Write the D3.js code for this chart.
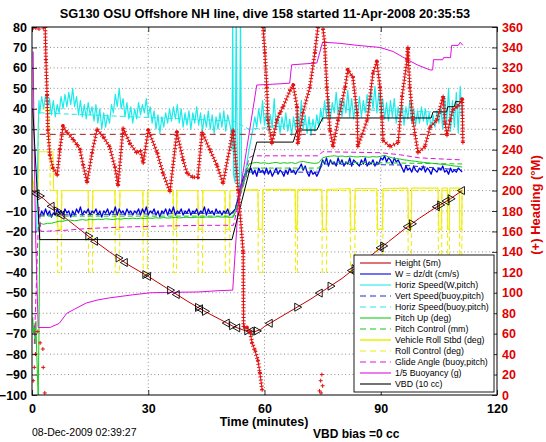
<!DOCTYPE html>
<html><head><meta charset="utf-8">
<script src="https://cdnjs.cloudflare.com/ajax/libs/d3/7.8.5/d3.min.js"></script>
<style>body{margin:0;background:#fff}svg{display:block}text{font-family:"Liberation Sans",Arial,Helvetica,sans-serif}</style>
</head><body><svg id="c" width="546" height="442"></svg>
<script>
// ---------------- DATA ----------------
const titleText = "SG130 OSU Offshore NH line, dive 158 started 11-Apr-2008 20:35:53";
const xTicks = [0, 30, 60, 90, 120];
const yLeftTicks = d3.range(-100, 81, 10);
const yRightTicks = d3.range(0, 361, 20);
const legendLabels = ["Height (5m)", "W = dz/dt (cm/s)", "Horiz Speed(W,pitch)", "Vert Speed(buoy,pitch)",
  "Horiz Speed(buoy,pitch)", "Pitch Up (deg)", "Pitch Control (mm)", "Vehicle Roll Stbd (deg)",
  "Roll Control (deg)", "Glide Angle (buoy,pitch)", "1/5 Buoyancy (g)", "VBD (10 cc)"];

// Height (5m)  [time min, value]
const heightData = [[0,0],[3,-4],[7,-11],[11,-17],[15,-23],[20,-30],[25,-36.5],[30,-42],[35,-48],[40,-54],
  [44,-58.5],[48,-62.5],[52,-66.5],[55,-68.5],[57.5,-69],[59,-68],[60,-66.5],[64,-62],[68,-57.5],[72,-53],
  [76,-48],[80,-43],[84,-37],[88,-31],[92,-25],[96,-19],[100,-13.5],[104,-8.5],[108,-4],[111,0]];
const heightMarkT = [1.2,2.0,5.1,6.4,7.7,14.5,16.3,22.3,24,29.2,30,35.6,37.4,42.8,43.4,44.6,50.3,51.6,53,55.5,
  56.5,58,61.4,68.4,74.3,77,82.6,83.2,90,90.6,97,98,104.5,105.3,107,108,111];

// W = dz/dt, descent samples every 0.5 min from t=2
const wDesc = [-13,-10,-12,-9,-12,-10,-13,-11,-12,-9, -11,-10,-12,-9,-11,-10,-13,-10,-12,-9,
  -11,-8,-12,-10,-11,-9,-12,-10,-11,-9, -12,-10,-13,-10,-11,-9,-12,-10,-11,-8,
  -12,-9,-11,-10,-12,-9,-11,-10,-12,-10, -11,-9,-12,-9,-11,-8,-12,-10,-11,-9,
  -12,-10,-13,-10,-11,-9,-12,-9,-11,-8, -12,-10,-11,-9,-12,-10,-11,-9,-12,-10,
  -11,-9,-12,-10,-11,-8,-12,-9,-11,-10, -12,-9,-11,-10,-12,-10,-11,-9,-12,-11];
const wTrans = [[52,-10],[52.5,-9],[53,-5],[53.5,-1],[54,3],[54.5,6],[55,8],[55.5,10]];
// ascent samples every 0.5 min from t=56
const wAsc = [9,11,8,10,7,11,9,10,8,11,8,10,7,9,11,8,10,9,7,10,8,11,9,10,8,10,
  11,13,10,12, 9,7,10,8,9,7,9, 12,15,
  13,16,12,15,13,14,12,16,13,15,12,14,13,16,12,15,14,13,12,15,13,16,12,14,13,15,12,14,13,16,
  15,17,14,16,15,13,16,14,15,13,
  11,9,12,10,11,9,12,10,9,11,10,12,9,11,10,8,11,10,9,11,10,12,9,10,8,11,9,10,9,11,10,9];

// Horiz Speed (W,pitch)
const cyanStart = [[1.2,-20],[1.6,30],[1.8,44]];
const cyanDesc = [38,46,40,47,41,45,37,44,36,42, 38,46,40,47,41,48,42,50,41,46,
  37,44,36,42,35,43,37,41,34,42, 33,40,30,38,31,37,33,42,38,47,
  41,50,40,45,36,43,35,41,33,40, 35,43,37,42,38,45,36,41,33,39,
  30,37,28,36,31,38,33,40,34,41, 35,42,33,40,31,38,32,39,30,38,
  33,41,32,38,29,37,31,39,30,37, 28,36,30,38,31,39,29,37,33];
const cyanSpike = [[51.3,30],[51.6,20],[51.8,86],[52.0,8],[52.4,4],[52.7,86],[53.0,3],[53.5,1],[53.8,86],[54.1,2],[54.5,5]];
const cyanAsc = [9,14,20,25,30,36,31,40,33,44, 32,38,29,37,31,45,30,37,28,36,
  30,38,29,35,27,36,30,39,31,44, 30,37,28,36,27,35,29,37,31,40,
  34,44,36,46,35,43,38,48,37,45, 36,44,38,49,36,45,35,43,37,46,
  36,44,38,47,39,49,40,51,38,48, 37,45,35,43,34,44,36,45,33,41,
  34,42,32,41,35,44,33,40,32,39, 33,41,34,40,32,38,30,37,31,39,
  33,41,30,46,33,50,29,44,31,48, 28,51,36];

const vertSpeedBuoy = [[2,-12],[52,-11],[55.5,9],[74,9],[75,13],[95,12.5],[111,10]];
const horizSpeedBuoy = [[2,38],[52,34],[56,30],[74,33],[75,40],[111,38]];

// Pitch Up (deg)
const pitchStart = [[0.2,-62],[0.4,-70],[0.6,-66],[0.8,-75],[1.0,-64],[1.2,-78],[1.4,-90],[1.6,-100],[1.8,-70],[2.0,-16]];
const pitchDesc = [-16.5,-16,-16,-15.5,-15,-15,-14.5,-14.5,-14.8,-14.5,-14.2,-14.5,-14,-14.3,-14,-14.2,-13.8,-14,-14.2,-13.8,
  -14,-13.6,-13.8,-13.5,-13.8,-13.5,-13.7,-13.4,-13.6,-13.3,-13.5,-13.2,-13.5,-13.3,-13.1,-13.4,-13.2,-13,-13.3,-13.1,
  -13,-13.2,-12.9,-13.1,-13,-12.8,-13,-12.9,-13.1,-13];
const pitchTrans = [[53,-8],[54,0],[55,8],[56,13]];
const pitchAsc = [13.5,13.8,13.4,13.6,13.2,13.5,13.8,13.3,13.6,13.4,13.7,13.2,14,14.2,13.8,13.5,13.3,13.6,
  16,16.6,16.8,17,16.7,16.9,16.5,16.8,16.6,16.4,16.7,16.5,16.3,16.6,16.4,16.8,17.2,
  16.5,16,15.7,15.4,15,14.8,14.5,14.3,14,13.8,13.6,13.4,13.2,13,12.8,12.6,12.3,12,11.8,11.5];
const pitchControl = [[2,-12.5],[52,-12.5],[55,5],[56,11],[74,11],[75,14],[111,13]];

// Roll (deg)
const rollData = [[0,8],[0.5,0],[1.5,0],[1.8,19],[5.4,19],[5.6,0],
  [6.5,0],[6.7,-19],[7.5,-19],[7.7,0],[14.5,0],[14.7,-19],[15.5,-19],[15.7,0],
  [21.4,0],[21.6,-19],[22.5,-19],[22.7,0],[28.6,0],[28.8,-19],[29.7,-19],[29.9,0],
  [36.4,0],[36.6,-19],[37.2,-19],[37.4,0],[42.8,0],[43,-19],[43.9,-19],[44.1,0],
  [49.8,0],[50,-19],[50.9,-19],[51.1,0],[58.3,0.5],[58.5,-19],[59.4,-19],[59.6,0.5],
  [67.9,0.5],[68.1,-19],[68.4,-19],[68.6,0.5],[74.8,0.5],[75,-19],[75.9,-19],[76.1,0.5],
  [82.1,1],[82.3,-19],[83.2,-19],[83.4,1],[89,1],[89.2,-19],[90.4,-19],[90.6,1],
  [97,1.2],[97.2,-19],[97.8,-19],[98,1.2],[104.8,1.2],[105,-19],[105.6,-19],[105.8,1.2],
  [107.2,1.2],[107.3,-19],[107.7,-19],[107.8,1.2],[110.3,1.2],[110.4,-19],[110.9,-19],[111,1.2]];
const rollControl = [[0,5],[1.5,0],[1.8,40],[4.5,40],[4.7,0],
  [6.5,0],[6.6,-40],[7.6,-40],[7.7,0],[14.5,0],[14.6,-40],[15.6,-40],[15.7,0],
  [21.4,0],[21.5,-40],[22.6,-40],[22.7,0],[28.6,0],[28.7,-40],[29.8,-40],[29.9,0],
  [36.4,0],[36.5,-40],[37.3,-40],[37.4,0],[42.8,0],[42.9,-40],[44,-40],[44.1,0],
  [49.8,0],[49.9,-40],[51,-40],[51.1,0],[58.3,0],[58.4,-40],[59.5,-40],[59.6,0],
  [67.9,0],[68,-40],[68.5,-40],[68.6,0],[74.8,0],[74.9,-40],[76,-40],[76.1,0],
  [82.1,0],[82.2,-40],[83.3,-40],[83.4,0],[89,0],[89.1,-40],[90.5,-40],[90.6,0],
  [97,0],[97.1,-40],[97.9,-40],[98,0],[104.8,0],[104.9,-40],[105.7,-40],[105.8,0],
  [107.2,0],[107.3,-40],[107.7,-40],[107.8,0],[110.3,0],[110.4,-40],[110.9,-40],[111,0]];

// Glide angle (buoy,pitch)
const glideAngle = [[0.6,-75],[1.8,-8],[2.3,-20],[8,-19.5],[15,-18.5],[25,-17.8],[35,-17.3],[45,-17],[52,-17],
  [54,0],[56,16],[57,17],[74,17],[75,19],[90,18.5],[95,17.5],[100,16],[105,15.5],[111,15]];

// 1/5 Buoyancy (g)
const buoyancy = [[0.3,68],[0.5,30],[0.9,-20],[1.6,-67],[4.6,-67],[7,-65],[9,-60],[11,-58],[14,-55],[17,-53.5],
  [20,-52.5],[26,-51],[30.5,-50],[36,-49.8],[43,-49.6],[48,-49],[51.8,-48.7],[53.3,-5],[58,51.6],[62,52],
  [66.5,52.5],[67,61.5],[73.5,62.4],[75,72.6],[79.5,72],[84,71],[89.8,70],[93.2,68],[95.7,65.3],[99.4,61.5],
  [102.7,59],[103.4,59],[103.6,64],[106,64],[106.2,65],[108,65],[108.3,71],[110,71],[110.5,72.5],[111.2,71]];

// VBD (10 cc)
const vbd = [[0.2,40],[2,-24],[51.6,-24],[58,23.7],[67.4,23.7],[68.4,29.6],[73.5,29.6],[75,35.5],[103,35.5],
  [103.5,38.5],[107,38.5],[107.3,41],[109,41],[109.3,43.5],[111,43.5]];

// Heading (deg M), right axis
const headingTop = [[0.3,359],[1.0,359],[1.8,358],[2.9,359]];
const headingStart = [[0.3,14],[0.6,27],[0.9,40],[1.5,62],[2.1,51],[2.8,45],[2.9,27],[3.3,2]];
const headingB = [[3.4,360],[3.6,328],[3.9,293],[4.1,259],[4.6,235],[5.4,222],[6.5,215],[7.2,240],[8.0,263],
  [9.0,257],[10.6,250],[11.6,245],[12.4,240],[13.2,225],[14.2,208],[15.5,237],[16.8,260],[18.5,252],[20.0,243],
  [21.4,223],[22.2,205],[23.5,261],[25.3,246],[27.0,237],[28.0,239],[28.7,227],[30.0,259],[32.3,237],[33.8,217],
  [35.6,199],[37.4,257],[39.0,230],[40.0,217],[41.5,213],[42.8,213],[43.9,257],[45.9,240],[47.7,225],[49.3,207],
  [51.9,259],[53.2,200],[54.5,140],[54.6,67],[55.4,66],[56.3,61],[56.8,51],[57.5,44],[58.3,34],[58.8,22],[59.4,5]];
const headingC = [[59.6,360],[60.1,335],[60.6,301],[60.9,269],[61.9,246],[63.2,269],[64.0,276],[64.8,282],
  [66.6,298],[67.4,303],[68.4,282],[68.6,246],[69.9,276],[71.7,301],[73.0,335],[73.8,360]];
const headingD = [[74.2,4],[74.5,14],[74.6,2],[74.8,20],[75.0,9]];
const headingE = [[75.1,358],[75.5,345],[76.1,301],[76.9,259],[77.7,243],[79.0,269],[80.8,301],[81.5,318],
  [82.8,311],[83.9,276],[84.1,243],[86.5,269],[88.0,315],[89.0,326],[89.8,301],[90.3,272],[90.6,249],[92.4,243],
  [94.5,247],[95.5,292],[96.8,328],[97.0,340],[97.5,301],[98.3,269],[99.6,237],[101.4,243],[102.7,262],
  [104.5,269],[106.1,292],[106.6,266],[107.1,254],[107.9,269],[108.6,279],[109.7,282],[111.0,289],[111.2,247]];
const headingTarget = [[2,255],[111.2,255]];

// ---------------- RENDER ----------------
const svg = d3.select("#c");
const X = d3.scaleLinear().domain([0, 120]).range([32, 497]);
const YL = d3.scaleLinear().domain([-100, 80]).range([395, 27]);
const YR = d3.scaleLinear().domain([0, 360]).range([395, 27]);
const FONT = '"Liberation Sans",Arial,Helvetica,sans-serif';
const minus = d => d < 0 ? "\u2212" + Math.abs(d) : String(d);
const seq = (t0, dt, vals) => vals.map((v, i) => [t0 + i * dt, v]);

svg.append("rect").attr("width", 546).attr("height", 442).attr("fill", "#fff");
svg.append("defs").append("clipPath").attr("id", "clip").append("rect")
  .attr("x", X(0)).attr("y", YL(80)).attr("width", X(120) - X(0)).attr("height", YL(-100) - YL(80));

// grid
const grid = svg.append("g").attr("stroke", "#444").attr("stroke-width", 0.6).attr("stroke-dasharray", "1,2.6");
grid.selectAll(".gh").data(yLeftTicks.filter(d => d > -100 && d < 80)).join("line")
  .attr("x1", X(0)).attr("x2", X(120)).attr("y1", d => YL(d)).attr("y2", d => YL(d));
grid.selectAll(".gv").data(xTicks.filter(d => d > 0 && d < 120)).join("line")
  .attr("x1", d => X(d)).attr("x2", d => X(d)).attr("y1", YL(80)).attr("y2", YL(-100));

const plot = svg.append("g").attr("clip-path", "url(#clip)");
function addLine(data, color, opt = {}) {
  const ys = opt.right ? YR : YL;
  return plot.append("path").datum(data)
    .attr("d", d3.line().x(d => X(d[0])).y(d => ys(d[1])))
    .attr("fill", "none").attr("stroke", color).attr("stroke-width", opt.w || 1)
    .attr("stroke-dasharray", opt.dash || null).attr("stroke-linejoin", "round");
}

const C = { height: "#c40000", w: "#0000e6", cyan: "#1eeaea", vert: "#2233bb", green: "#16c816",
  yellow: "#eeee10", magenta: "#dd10dd", black: "#000", heading: "#e41010", target: "#a01818" };

const wSeries = [].concat(seq(2, 0.5, wDesc), wTrans, seq(56, 0.5, wAsc));
const cyanSeries = [].concat(cyanStart, seq(2, 0.5, cyanDesc), cyanSpike, seq(55, 0.5, cyanAsc));
const pitchSeries = [].concat(pitchStart, seq(3, 1, pitchDesc), pitchTrans, seq(57, 1, pitchAsc));

// draw in legend order
addLine(rollData, C.yellow, { w: 1.1 });
addLine(rollControl, C.yellow, { w: 1.1, dash: "5,3" });
addLine(heightData, C.height, { w: 1 });
addLine(cyanSeries, C.cyan, { w: 1.2 });
addLine(horizSpeedBuoy, C.cyan, { w: 1, dash: "5,3" });
addLine(wSeries, C.w, { w: 1.3 });
addLine(vertSpeedBuoy, C.vert, { w: 1, dash: "5,3" });
addLine(pitchSeries, C.green, { w: 1 });
addLine(pitchControl, C.green, { w: 1, dash: "5,3" });
addLine(glideAngle, C.magenta, { w: 1, dash: "5,3" });
addLine(buoyancy, C.magenta, { w: 1 });
addLine(vbd, C.black, { w: 1 });

// height triangles
function interp(series, t) {
  for (let i = 0; i < series.length - 1; i++) {
    const a = series[i], b = series[i + 1];
    if (t >= a[0] && t <= b[0]) return a[1] + (b[1] - a[1]) * (t - a[0]) / (b[0] - a[0]);
  }
  return series[series.length - 1][1];
}
const tri = d3.symbol().type(d3.symbolTriangle).size(28);
plot.selectAll(".tri").data(heightMarkT).join("path")
  .attr("d", tri)
  .attr("transform", (t, i) => `translate(${X(t)},${YL(interp(heightData, t))}) rotate(${i % 2 ? 90 : -90})`)
  .attr("fill", "none").attr("stroke", "#000").attr("stroke-width", 0.9);

// heading (right axis)
addLine(headingTarget, C.target, { w: 1, dash: "6,4", right: true });
[headingB, headingC, headingE].forEach(seg => {
  addLine(seg, C.heading, { w: 1.1, right: true });
  addLine(seg, C.heading, { w: 4.2, dash: "1,2.2", right: true });
});
const allHeadPts = [].concat(headingTop, headingStart, headingB, headingC, headingD, headingE);
plot.selectAll(".hp").data(allHeadPts).join("path")
  .attr("d", "M-2,0H2M0,-2V2")
  .attr("transform", d => `translate(${X(d[0])},${YR(d[1])})`)
  .attr("stroke", C.heading).attr("stroke-width", 1).attr("fill", "none");

// frame
svg.append("rect").attr("x", X(0)).attr("y", YL(80)).attr("width", X(120) - X(0)).attr("height", YL(-100) - YL(80))
  .attr("fill", "none").attr("stroke", "#000").attr("stroke-width", 1);

// axes
function styleAxis(g, color) {
  g.select(".domain").remove();
  g.selectAll("line").attr("stroke", "#000").attr("stroke-width", 0.8);
  g.selectAll("text").attr("font-family", FONT).attr("font-size", 12.5).attr("font-weight", "bold").attr("fill", color);
}
svg.append("g").attr("transform", `translate(${X(0)},0)`)
  .call(d3.axisLeft(YL).tickValues(yLeftTicks).tickSize(-5).tickPadding(5).tickFormat(minus))
  .call(g => styleAxis(g, "#000"));
svg.append("g").attr("transform", `translate(${X(120)},0)`)
  .call(d3.axisRight(YR).tickValues(yRightTicks).tickSize(-5).tickPadding(5))
  .call(g => styleAxis(g, "#e00000"));
svg.append("g").attr("transform", `translate(0,${YL(-100)})`)
  .call(d3.axisBottom(X).tickValues(xTicks).tickSize(-5).tickPadding(9))
  .call(g => styleAxis(g, "#000"));
svg.append("g").attr("transform", `translate(0,${YL(80)})`)
  .call(d3.axisTop(X).tickValues(xTicks).tickSize(-5).tickFormat(""))
  .call(g => styleAxis(g, "#000"));

// texts
svg.append("text").attr("x", 265).attr("y", 18).attr("text-anchor", "middle")
  .attr("font-size", 12.8).attr("font-weight", "bold").text(titleText);
svg.append("text").attr("x", 264).attr("y", 426).attr("text-anchor", "middle")
  .attr("font-size", 12.5).attr("font-weight", "bold").text("Time (minutes)");
svg.append("text").attr("x", 313).attr("y", 438)
  .attr("font-size", 12).attr("font-weight", "bold").text("VBD bias =0 cc");
svg.append("text").attr("x", 32).attr("y", 436)
  .attr("font-size", 10.5).text("08-Dec-2009 02:39:27");
svg.append("text").attr("transform", "translate(540,205) rotate(-90)").attr("text-anchor", "middle")
  .attr("font-size", 13).attr("font-weight", "bold").attr("fill", "#e00000").text("(+) Heading (\u00b0M)");

// legend
const legStyles = [
  { c: C.height }, { c: C.w }, { c: C.cyan }, { c: C.vert, d: "6,4" }, { c: C.cyan, d: "6,4" },
  { c: C.green }, { c: C.green, d: "6,4" }, { c: C.yellow, w: 1.6 }, { c: C.yellow, d: "6,4" },
  { c: C.magenta, d: "6,4" }, { c: C.magenta }, { c: C.black }];
const leg = svg.append("g");
leg.append("rect").attr("x", 354).attr("y", 255).attr("width", 140).attr("height", 137)
  .attr("fill", "#fff").attr("stroke", "#000").attr("stroke-width", 0.9);
const items = leg.selectAll(".li").data(legendLabels).join("g")
  .attr("transform", (d, i) => `translate(0,${263 + i * 11})`);
items.append("line").attr("x1", 360).attr("x2", 391)
  .attr("stroke", (d, i) => legStyles[i].c).attr("stroke-width", (d, i) => legStyles[i].w || 1.1)
  .attr("stroke-dasharray", (d, i) => legStyles[i].d || null);
items.append("text").attr("x", 395).attr("dy", "0.35em").attr("font-size", 8.8).text(d => d);
</script></body></html>
